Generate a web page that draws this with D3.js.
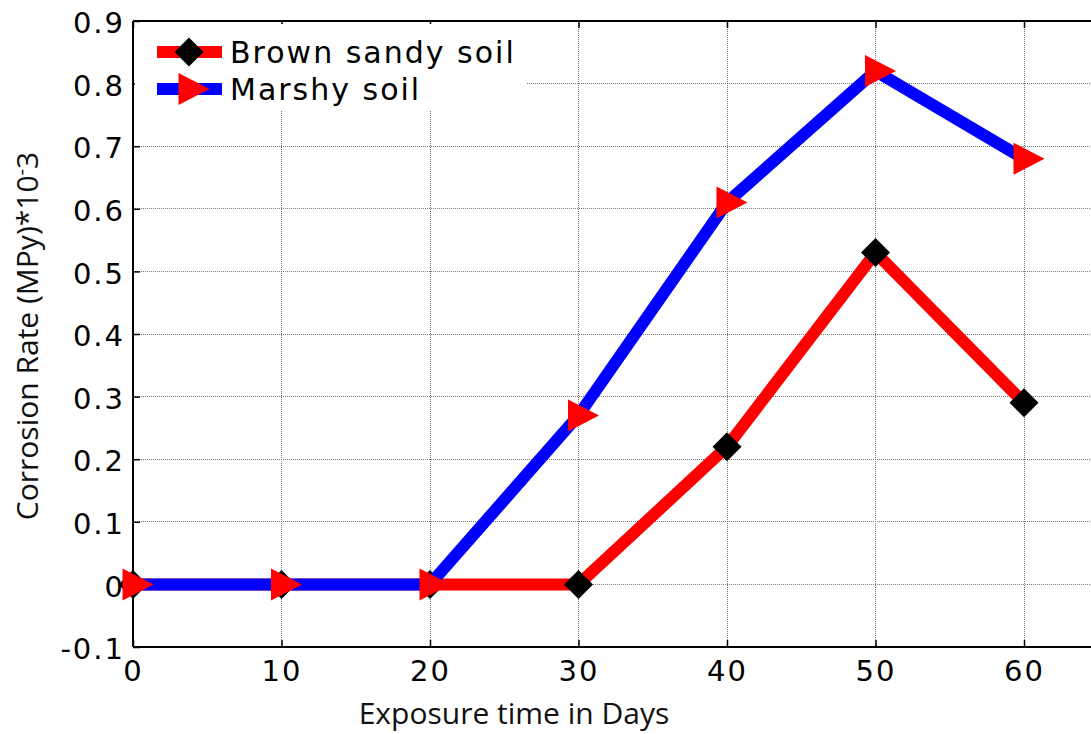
<!DOCTYPE html>
<meta charset="utf-8">
<style>
body{ margin:0; background:#fff; }
.grid line{ stroke:#777; stroke-width:1px; stroke-dasharray:1,1; shape-rendering:crispEdges; }
.tick text{ font-family:"DejaVu Sans"; font-size:29px; letter-spacing:2px; fill:#000; }
.axtitle{ font-family:"Open Sans"; font-size:30px; fill:#111; }
.leg text{ font-family:"DejaVu Sans"; font-size:30px; letter-spacing:2px; fill:#000; }
</style>
<body>
<script src="https://cdn.jsdelivr.net/npm/d3@7"></script>
<script>
var days = [0, 10, 20, 30, 40, 50, 60];
var brownSandy = [0, 0, 0, 0, 0.22, 0.53, 0.29];
var marshy = [0, 0, 0, 0.27, 0.61, 0.82, 0.68];
var xTicks = [0, 10, 20, 30, 40, 50, 60];
var yTicks = [-0.1, 0, 0.1, 0.2, 0.3, 0.4, 0.5, 0.6, 0.7, 0.8, 0.9];

var W = 1091, H = 734;
var pLeft = 133, pTop = 21, pBottom = 647;

var x = d3.scaleLinear().domain([0, 65]).range([pLeft, pLeft + 65 * 14.85]);
var y = d3.scaleLinear().domain([-0.1, 0.9]).range([pBottom, pTop]);

var svg = d3.select("body").append("svg").attr("width", W).attr("height", H);

// grid
var grid = svg.append("g").attr("class", "grid");
grid.selectAll(".gx").data(xTicks.slice(1)).enter().append("line")
  .attr("x1", function(d){ return x(d); }).attr("x2", function(d){ return x(d); })
  .attr("y1", pTop).attr("y2", pBottom);
grid.selectAll(".gy").data(yTicks.slice(1, -1)).enter().append("line")
  .attr("x1", pLeft).attr("x2", W)
  .attr("y1", function(d){ return y(d); }).attr("y2", function(d){ return y(d); });

// axes
var fmt = function(d){ return d === 0 ? "0" : d3.format(".1f")(d).replace("\u2212", "-"); };
svg.append("g").attr("transform", "translate(0," + pBottom + ")")
  .call(d3.axisBottom(x).tickValues(xTicks).tickSize(-7).tickPadding(13).tickFormat(d3.format("d")))
  .call(function(g){ g.select(".domain").remove(); });
svg.append("g").attr("transform", "translate(0," + pTop + ")")
  .call(d3.axisTop(x).tickValues(xTicks).tickSize(-7).tickFormat(""))
  .call(function(g){ g.select(".domain").remove(); });
svg.append("g").attr("transform", "translate(" + pLeft + ",0)")
  .call(d3.axisLeft(y).tickValues(yTicks).tickSize(-7).tickPadding(8).tickFormat(fmt))
  .call(function(g){ g.select(".domain").remove(); g.selectAll("text").attr("dy", "0.4em"); });
svg.selectAll(".tick line").attr("stroke", "#000").attr("stroke-width", 1.5);

svg.append("line").attr("x1", pLeft).attr("x2", W).attr("y1", pBottom).attr("y2", pBottom)
  .attr("stroke", "#000").attr("stroke-width", 2);
svg.append("line").attr("x1", pLeft).attr("x2", W).attr("y1", pTop).attr("y2", pTop)
  .attr("stroke", "#000").attr("stroke-width", 2);
svg.append("line").attr("x1", pLeft).attr("x2", pLeft).attr("y1", pTop).attr("y2", pBottom)
  .attr("stroke", "#000").attr("stroke-width", 2);

// series
var line = d3.line().x(function(d, i){ return x(days[i]); }).y(function(d){ return y(d); });
var diamond = "M0,-14.5L14.5,0L0,14.5L-14.5,0Z";
var tri = "M-10.5,-16L20.5,0L-10.5,16Z";

svg.append("path").datum(brownSandy).attr("d", line)
  .attr("fill", "none").attr("stroke", "#ff0000").attr("stroke-width", 12).attr("stroke-linejoin", "round");
svg.append("g").selectAll("path").data(brownSandy).enter().append("path")
  .attr("d", diamond).attr("fill", "#000")
  .attr("transform", function(d, i){ return "translate(" + x(days[i]) + "," + y(d) + ")"; });

svg.append("path").datum(marshy).attr("d", line)
  .attr("fill", "none").attr("stroke", "#0000ff").attr("stroke-width", 12).attr("stroke-linejoin", "round");
svg.append("g").selectAll("path").data(marshy).enter().append("path")
  .attr("d", tri).attr("fill", "#ff0000")
  .attr("transform", function(d, i){ return "translate(" + x(days[i]) + "," + y(d) + ")"; });

// legend
var leg = svg.append("g").attr("class", "leg");
leg.append("rect").attr("x", pLeft + 2).attr("y", pTop + 3).attr("width", 392).attr("height", 86).attr("fill", "#fff");
var items = [
  {name: "Brown sandy soil", line: "#ff0000", mark: diamond, mc: "#000", yy: 52},
  {name: "Marshy soil", line: "#0000ff", mark: tri, mc: "#ff0000", yy: 89}
];
items.forEach(function(it){
  leg.append("line").attr("x1", 157).attr("x2", 222).attr("y1", it.yy).attr("y2", it.yy)
    .attr("stroke", it.line).attr("stroke-width", 12);
  leg.append("path").attr("d", it.mark).attr("fill", it.mc)
    .attr("transform", "translate(189," + it.yy + ")");
  leg.append("text").attr("x", 230).attr("y", it.yy + 11).text(it.name);
});

// axis titles
svg.append("text").attr("class", "axtitle").attr("text-anchor", "middle")
  .attr("x", 514).attr("y", 724).text("Exposure time in Days");
var yl = svg.append("text").attr("class", "axtitle").attr("text-anchor", "middle")
  .attr("transform", "translate(38,336) rotate(-90)");
yl.append("tspan").text("Corrosion Rate (MPy)*10");
yl.append("tspan").attr("dy", -10).attr("font-size", "20px").text("-");
yl.append("tspan").attr("dy", 10).text("3");
</script>
</body>
